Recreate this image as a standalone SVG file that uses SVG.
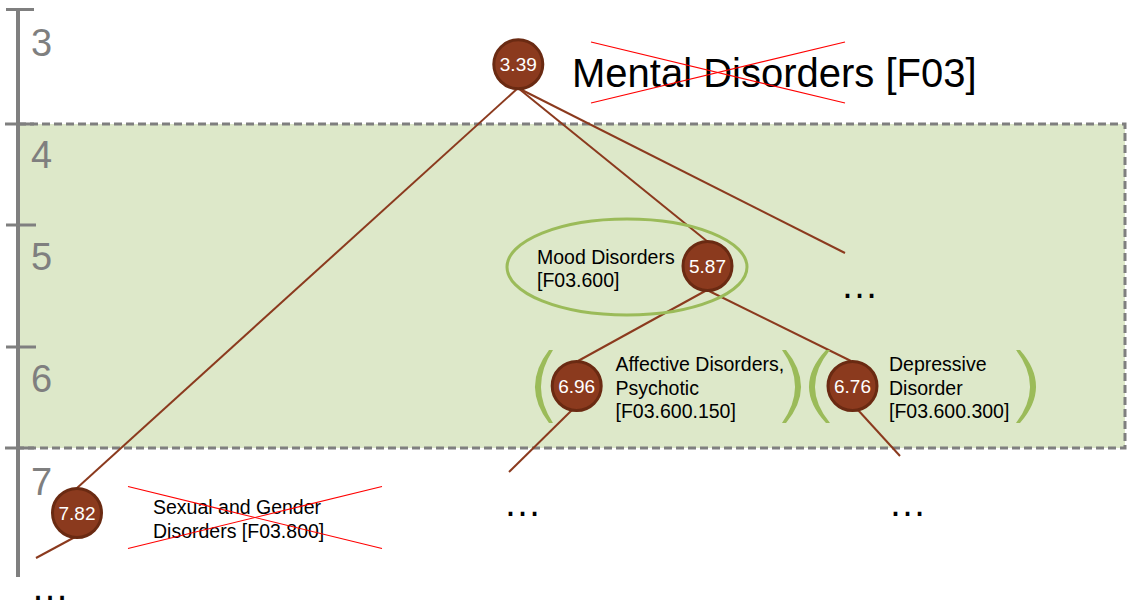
<svg xmlns="http://www.w3.org/2000/svg" width="1133" height="612" viewBox="0 0 1133 612">
<style>
.axis{stroke:#7f7f7f;stroke-width:4;fill:none}
.tick{stroke:#7f7f7f;stroke-width:3}
.lvl{font-family:"Liberation Sans",Arial,sans-serif;font-size:38px;fill:#7f7f7f}
.edge{stroke:#8b3a1e;stroke-width:2;fill:none}
.node{fill:#8b3a1e;stroke:#6a2a12;stroke-width:3}
.num{font-family:"Liberation Sans",Arial,sans-serif;font-size:19px;fill:#ffffff;text-anchor:middle}
.lbl{font-family:"Liberation Sans",Arial,sans-serif;font-size:19.5px;fill:#000000}
.dots{font-family:"Liberation Sans",Arial,sans-serif;font-size:38px;fill:#000000}
.cross{stroke:#ff0000;stroke-width:1.2}
.paren{fill:#9bbb59}
</style>
<rect width="1133" height="612" fill="#ffffff"/>
<g id="band">
<rect x="18" y="124" width="1107" height="324" fill="#dde8c9" stroke="#7f7f7f" stroke-width="3" stroke-dasharray="8 4"/>
</g>
<g id="axis">
<line class="axis" x1="18" y1="8" x2="18" y2="577"/>
<line class="tick" x1="6" y1="9.5" x2="34" y2="9.5"/>
<line class="tick" x1="5" y1="124" x2="34" y2="124"/>
<line class="tick" x1="6" y1="225" x2="36" y2="225"/>
<line class="tick" x1="6" y1="347" x2="36" y2="347"/>
<line class="tick" x1="5" y1="448" x2="34" y2="448"/>
<text class="lvl" x="31" y="56">3</text>
<text class="lvl" x="31" y="168">4</text>
<text class="lvl" x="31" y="270">5</text>
<text class="lvl" x="31" y="392">6</text>
<text class="lvl" x="31" y="495">7</text>
<text class="dots" x="31" y="600">…</text>
</g>
<g id="connectors">
<line class="edge" x1="518" y1="88" x2="77" y2="488"/>
<line class="edge" x1="518" y1="88" x2="708" y2="242"/>
<line class="edge" x1="518" y1="88" x2="845" y2="253"/>
<line class="edge" x1="707" y1="290" x2="578" y2="361"/>
<line class="edge" x1="707" y1="290" x2="851" y2="361"/>
<line class="edge" x1="572" y1="410" x2="509" y2="472"/>
<line class="edge" x1="858" y1="410" x2="900" y2="456"/>
<line class="edge" x1="75" y1="537" x2="36" y2="558" stroke-width="1.5"/>
</g>
<g id="node-f03">
<circle class="node" cx="518.3" cy="64.3" r="24.5"/>
<text class="num" x="518.3" y="71">3.39</text>
<text x="572" y="87" font-family="Liberation Sans, Arial, sans-serif" font-size="40" fill="#000000">Mental Disorders [F03]</text>
<line class="cross" x1="591" y1="42" x2="845" y2="103"/>
<line class="cross" x1="591" y1="103" x2="845" y2="42"/>
</g>
<g id="node-f03-600">
<ellipse cx="627" cy="267" rx="120" ry="48" fill="none" stroke="#9bbb59" stroke-width="3"/>
<circle class="node" cx="707.5" cy="266" r="24.5"/>
<text class="num" x="707.5" y="272.5">5.87</text>
<text class="lbl" x="537" y="264">Mood Disorders</text>
<text class="lbl" x="537" y="287">[F03.600]</text>
</g>
<g id="node-more-l4">
<text class="dots" x="840.6" y="297.5">…</text>
</g>
<g id="node-f03-600-150">
<path class="paren" d="M549,350 Q521,386.5 549,423 L553,423 Q529,386.5 553,350 Z"/>
<path class="paren" d="M786,350 Q816,386.5 786,423 L782,423 Q808,386.5 782,350 Z"/>
<circle class="node" cx="576.7" cy="386" r="24.5"/>
<text class="num" x="576.7" y="392.5">6.96</text>
<text class="lbl" x="615.5" y="371">Affective Disorders,</text>
<text class="lbl" x="615.5" y="394.5">Psychotic</text>
<text class="lbl" x="615.5" y="418">[F03.600.150]</text>
</g>
<g id="node-f03-600-300">
<path class="paren" d="M826,350 Q792,386.5 826,423 L830,423 Q800,386.5 830,350 Z"/>
<path class="paren" d="M1020,350 Q1052,386.5 1020,423 L1016,423 Q1044,386.5 1016,350 Z"/>
<circle class="node" cx="852.5" cy="386" r="24.5"/>
<text class="num" x="852.5" y="392.5">6.76</text>
<text class="lbl" x="889" y="371">Depressive</text>
<text class="lbl" x="889" y="394.5">Disorder</text>
<text class="lbl" x="889" y="418">[F03.600.300]</text>
</g>
<g id="node-f03-800">
<circle class="node" cx="77" cy="513" r="24.5"/>
<text class="num" x="77" y="519.5">7.82</text>
<text class="lbl" x="153" y="514">Sexual and Gender</text>
<text class="lbl" x="153" y="537.5">Disorders [F03.800]</text>
<line class="cross" x1="128" y1="486.5" x2="382" y2="548.5"/>
<line class="cross" x1="128" y1="548.5" x2="382" y2="486.5"/>
</g>
<g id="node-more-l7a">
<text class="dots" x="503.6" y="516">…</text>
</g>
<g id="node-more-l7b">
<text class="dots" x="888.6" y="516">…</text>
</g>
</svg>
